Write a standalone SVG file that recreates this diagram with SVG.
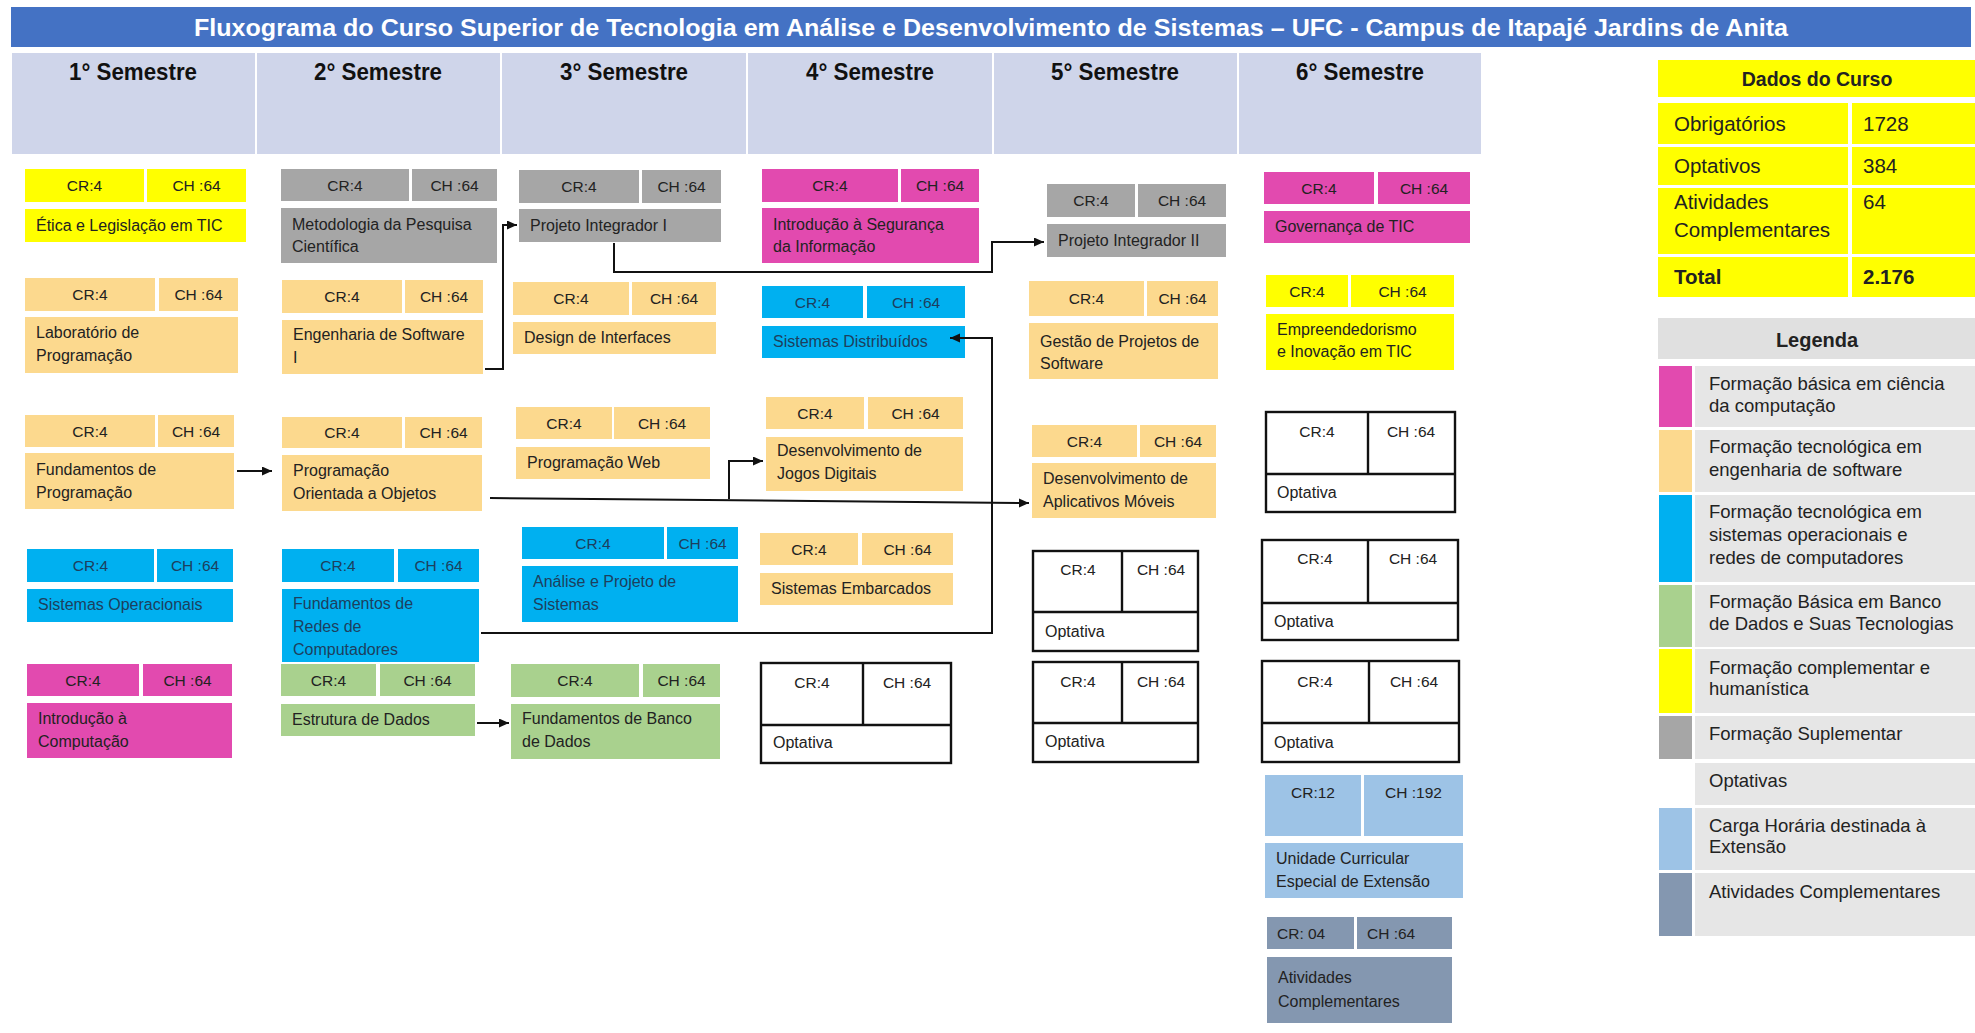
<svg xmlns="http://www.w3.org/2000/svg" width="1975" height="1033" viewBox="0 0 1975 1033">
<defs>
<style>
text{font-family:"Liberation Sans",Arial,sans-serif;fill:#222}
.cr{font-size:15.5px;text-anchor:middle}
.crl{font-size:15.5px}
.nm{font-size:16px}
.yl{fill:#ffff00}
.or{fill:#fcd98e}
.bl{fill:#00b0f0}
.mg{fill:#e24aaf}
.gy{fill:#a6a6a6}
.gr{fill:#a9d18e}
.lb{fill:#9dc3e6}
.sl{fill:#8497b0}
.wh{fill:#ffffff}
.bt text{fill:#1d3f5e}
.opt rect{fill:#fff;stroke:#111;stroke-width:2.4}
.opt line{stroke:#111;stroke-width:2.4}
.hd{fill:#cfd5ea}
.sem{font-family:"Liberation Sans Narrow","Liberation Sans",Arial,sans-serif;font-weight:bold;font-size:24px;text-anchor:middle;fill:#111}
.ttl{font-family:"Liberation Sans Narrow","Liberation Sans",Arial,sans-serif;font-weight:bold;font-size:24px;text-anchor:middle;fill:#fff}
.lg{font-size:18.5px}
.dt{font-size:20.5px}
.lgbg{fill:#e6e6e6}
.conn path{fill:none;stroke:#111;stroke-width:2}
</style>
<marker id="ah" markerUnits="userSpaceOnUse" markerWidth="12" markerHeight="10" refX="10" refY="4.5" orient="auto"><path d="M0,0 L10,4.5 L0,9 z" fill="#111"/></marker>
</defs>
<rect x="0" y="0" width="1975" height="1033" fill="#fff"/>

<g id="title">
<rect x="11" y="7" width="1960" height="40" fill="#4472c4"/>
<text class="ttl" x="991" y="36" textLength="1594" lengthAdjust="spacingAndGlyphs">Fluxograma do Curso Superior de Tecnologia em Análise e Desenvolvimento de Sistemas – UFC - Campus de Itapajé Jardins de Anita</text>
</g>

<g id="semester-headers">
<rect class="hd" x="12" y="53" width="243" height="101"/>
<rect class="hd" x="257" y="53" width="243" height="101"/>
<rect class="hd" x="502" y="53" width="244" height="101"/>
<rect class="hd" x="748" y="53" width="244" height="101"/>
<rect class="hd" x="994" y="53" width="243" height="101"/>
<rect class="hd" x="1239" y="53" width="242" height="101"/>
<text class="sem" x="133" y="80" textLength="128" lengthAdjust="spacingAndGlyphs">1° Semestre</text>
<text class="sem" x="378" y="80" textLength="128" lengthAdjust="spacingAndGlyphs">2° Semestre</text>
<text class="sem" x="624" y="80" textLength="128" lengthAdjust="spacingAndGlyphs">3° Semestre</text>
<text class="sem" x="870" y="80" textLength="128" lengthAdjust="spacingAndGlyphs">4° Semestre</text>
<text class="sem" x="1115" y="80" textLength="128" lengthAdjust="spacingAndGlyphs">5° Semestre</text>
<text class="sem" x="1360" y="80" textLength="128" lengthAdjust="spacingAndGlyphs">6° Semestre</text>
</g>

<!-- Semestre 1 -->
<g id="etica">
<rect class="yl" x="25" y="169" width="119" height="33"/><rect class="yl" x="147" y="169" width="99" height="33"/><rect class="yl" x="25" y="209" width="221" height="33"/>
<text class="cr" x="84.5" y="191">CR:4</text><text class="cr" x="196.5" y="191">CH :64</text>
<text class="nm" x="36" y="231">Ética e Legislação em TIC</text>
</g>
<g id="laboratorio">
<rect class="or" x="25" y="278" width="130" height="33"/><rect class="or" x="159" y="278" width="79" height="33"/><rect class="or" x="25" y="317" width="213" height="56"/>
<text class="cr" x="90" y="300">CR:4</text><text class="cr" x="198.5" y="300">CH :64</text>
<text class="nm" x="36" y="338">Laboratório de</text><text class="nm" x="36" y="361">Programação</text>
</g>
<g id="fund-prog">
<rect class="or" x="25" y="415" width="130" height="32"/><rect class="or" x="158" y="415" width="76" height="32"/><rect class="or" x="25" y="453" width="209" height="56"/>
<text class="cr" x="90" y="436.5">CR:4</text><text class="cr" x="196" y="436.5">CH :64</text>
<text class="nm" x="36" y="475">Fundamentos de</text><text class="nm" x="36" y="498">Programação</text>
</g>
<g id="sist-op" class="bt">
<rect class="bl" x="27" y="549" width="127" height="33"/><rect class="bl" x="157" y="549" width="76" height="33"/><rect class="bl" x="27" y="589" width="206" height="33"/>
<text class="cr" x="90.5" y="571">CR:4</text><text class="cr" x="195" y="571">CH :64</text>
<text class="nm" x="38" y="610">Sistemas Operacionais</text>
</g>
<g id="intro-comp">
<rect class="mg" x="27" y="664" width="112" height="32"/><rect class="mg" x="143" y="664" width="89" height="32"/><rect class="mg" x="27" y="703" width="205" height="55"/>
<text class="cr" x="83" y="685.5">CR:4</text><text class="cr" x="187.5" y="685.5">CH :64</text>
<text class="nm" x="38" y="724">Introdução à</text><text class="nm" x="38" y="747">Computação</text>
</g>

<!-- Semestre 2 -->
<g id="metodologia">
<rect class="gy" x="281" y="169" width="128" height="32"/><rect class="gy" x="412" y="169" width="85" height="32"/><rect class="gy" x="281" y="208" width="216" height="55"/>
<text class="cr" x="345" y="190.5">CR:4</text><text class="cr" x="454.5" y="190.5">CH :64</text>
<text class="nm" x="292" y="230">Metodologia da Pesquisa</text><text class="nm" x="292" y="252">Científica</text>
</g>
<g id="eng-soft">
<rect class="or" x="282" y="280" width="120" height="33"/><rect class="or" x="405" y="280" width="78" height="33"/><rect class="or" x="282" y="320" width="201" height="54"/>
<text class="cr" x="342" y="302">CR:4</text><text class="cr" x="444" y="302">CH :64</text>
<text class="nm" x="293" y="340">Engenharia de Software</text><text class="nm" x="293" y="363">I</text>
</g>
<g id="poo">
<rect class="or" x="282" y="417" width="120" height="31"/><rect class="or" x="405" y="417" width="77" height="31"/><rect class="or" x="282" y="455" width="200" height="56"/>
<text class="cr" x="342" y="438">CR:4</text><text class="cr" x="443.5" y="438">CH :64</text>
<text class="nm" x="293" y="476">Programação</text><text class="nm" x="293" y="499">Orientada a Objetos</text>
</g>
<g id="redes" class="bt">
<rect class="bl" x="282" y="549" width="112" height="33"/><rect class="bl" x="398" y="549" width="81" height="33"/><rect class="bl" x="282" y="589" width="197" height="73"/>
<text class="cr" x="338" y="571">CR:4</text><text class="cr" x="438.5" y="571">CH :64</text>
<text class="nm" x="293" y="609">Fundamentos de</text><text class="nm" x="293" y="632">Redes de</text><text class="nm" x="293" y="655">Computadores</text>
</g>
<g id="estrutura">
<rect class="gr" x="281" y="664" width="95" height="32"/><rect class="gr" x="380" y="664" width="95" height="32"/><rect class="gr" x="281" y="704" width="194" height="32"/>
<text class="cr" x="328.5" y="685.5">CR:4</text><text class="cr" x="427.5" y="685.5">CH :64</text>
<text class="nm" x="292" y="725">Estrutura de Dados</text>
</g>

<!-- Semestre 3 -->
<g id="pi1">
<rect class="gy" x="519" y="170" width="120" height="33"/><rect class="gy" x="642" y="170" width="79" height="33"/><rect class="gy" x="519" y="209" width="202" height="33"/>
<text class="cr" x="579" y="192">CR:4</text><text class="cr" x="681.5" y="192">CH :64</text>
<text class="nm" x="530" y="231">Projeto Integrador I</text>
</g>
<g id="design">
<rect class="or" x="513" y="282" width="116" height="33"/><rect class="or" x="632" y="282" width="84" height="33"/><rect class="or" x="513" y="322" width="203" height="32"/>
<text class="cr" x="571" y="304">CR:4</text><text class="cr" x="674" y="304">CH :64</text>
<text class="nm" x="524" y="343">Design de Interfaces</text>
</g>
<g id="prog-web">
<rect class="or" x="516" y="407" width="96" height="32"/><rect class="or" x="614" y="407" width="96" height="32"/><rect class="or" x="516" y="447" width="194" height="32"/>
<text class="cr" x="564" y="428.5">CR:4</text><text class="cr" x="662" y="428.5">CH :64</text>
<text class="nm" x="527" y="468">Programação Web</text>
</g>
<g id="analise" class="bt">
<rect class="bl" x="522" y="527" width="142" height="32"/><rect class="bl" x="667" y="527" width="71" height="32"/><rect class="bl" x="522" y="566" width="216" height="56"/>
<text class="cr" x="593" y="548.5">CR:4</text><text class="cr" x="702.5" y="548.5">CH :64</text>
<text class="nm" x="533" y="587">Análise e Projeto de</text><text class="nm" x="533" y="610">Sistemas</text>
</g>
<g id="banco">
<rect class="gr" x="511" y="664" width="128" height="33"/><rect class="gr" x="643" y="664" width="77" height="33"/><rect class="gr" x="511" y="704" width="209" height="55"/>
<text class="cr" x="575" y="686">CR:4</text><text class="cr" x="681.5" y="686">CH :64</text>
<text class="nm" x="522" y="724">Fundamentos de Banco</text><text class="nm" x="522" y="747">de Dados</text>
</g>

<!-- Semestre 4 -->
<g id="seguranca">
<rect class="mg" x="762" y="169" width="136" height="33"/><rect class="mg" x="901" y="169" width="78" height="33"/><rect class="mg" x="762" y="208" width="217" height="55"/>
<text class="cr" x="830" y="191">CR:4</text><text class="cr" x="940" y="191">CH :64</text>
<text class="nm" x="773" y="230">Introdução à Segurança</text><text class="nm" x="773" y="252">da Informação</text>
</g>
<g id="distribuidos" class="bt">
<rect class="bl" x="762" y="286" width="101" height="32"/><rect class="bl" x="867" y="286" width="98" height="32"/><rect class="bl" x="762" y="326" width="203" height="32"/>
<text class="cr" x="812.5" y="307.5">CR:4</text><text class="cr" x="916" y="307.5">CH :64</text>
<text class="nm" x="773" y="347">Sistemas Distribuídos</text>
</g>
<g id="jogos">
<rect class="or" x="766" y="397" width="98" height="32"/><rect class="or" x="868" y="397" width="95" height="32"/><rect class="or" x="766" y="437" width="197" height="54"/>
<text class="cr" x="815" y="418.5">CR:4</text><text class="cr" x="915.5" y="418.5">CH :64</text>
<text class="nm" x="777" y="456">Desenvolvimento de</text><text class="nm" x="777" y="479">Jogos Digitais</text>
</g>
<g id="embarcados">
<rect class="or" x="760" y="533" width="98" height="32"/><rect class="or" x="862" y="533" width="91" height="32"/><rect class="or" x="760" y="573" width="193" height="32"/>
<text class="cr" x="809" y="554.5">CR:4</text><text class="cr" x="907.5" y="554.5">CH :64</text>
<text class="nm" x="771" y="594">Sistemas Embarcados</text>
</g>
<g id="optativa-4" class="opt">
<rect x="761" y="663" width="190" height="100"/><line x1="863" y1="663" x2="863" y2="725"/><line x1="761" y1="725" x2="951" y2="725"/>
<text class="cr" x="812" y="688">CR:4</text><text class="cr" x="907" y="688">CH :64</text>
<text class="nm" x="773" y="748">Optativa</text>
</g>

<!-- Semestre 5 -->
<g id="pi2">
<rect class="gy" x="1047" y="184" width="88" height="33"/><rect class="gy" x="1138" y="184" width="88" height="33"/><rect class="gy" x="1047" y="224" width="179" height="33"/>
<text class="cr" x="1091" y="206">CR:4</text><text class="cr" x="1182" y="206">CH :64</text>
<text class="nm" x="1058" y="246">Projeto Integrador II</text>
</g>
<g id="gestao">
<rect class="or" x="1029" y="281" width="115" height="35"/><rect class="or" x="1147" y="281" width="71" height="35"/><rect class="or" x="1029" y="323" width="189" height="56"/>
<text class="cr" x="1086.5" y="304">CR:4</text><text class="cr" x="1182.5" y="304">CH :64</text>
<text class="nm" x="1040" y="347">Gestão de Projetos de</text><text class="nm" x="1040" y="369">Software</text>
</g>
<g id="apps">
<rect class="or" x="1032" y="425" width="105" height="32"/><rect class="or" x="1140" y="425" width="76" height="32"/><rect class="or" x="1032" y="463" width="184" height="55"/>
<text class="cr" x="1084.5" y="446.5">CR:4</text><text class="cr" x="1178" y="446.5">CH :64</text>
<text class="nm" x="1043" y="484">Desenvolvimento de</text><text class="nm" x="1043" y="507">Aplicativos Móveis</text>
</g>
<g id="optativa-5a" class="opt">
<rect x="1033" y="551" width="165" height="100"/><line x1="1122" y1="551" x2="1122" y2="612"/><line x1="1033" y1="612" x2="1198" y2="612"/>
<text class="cr" x="1078" y="575">CR:4</text><text class="cr" x="1161" y="575">CH :64</text>
<text class="nm" x="1045" y="637">Optativa</text>
</g>
<g id="optativa-5b" class="opt">
<rect x="1033" y="662" width="165" height="100"/><line x1="1122" y1="662" x2="1122" y2="723"/><line x1="1033" y1="723" x2="1198" y2="723"/>
<text class="cr" x="1078" y="687">CR:4</text><text class="cr" x="1161" y="687">CH :64</text>
<text class="nm" x="1045" y="747">Optativa</text>
</g>

<!-- Semestre 6 -->
<g id="governanca">
<rect class="mg" x="1264" y="172" width="110" height="32"/><rect class="mg" x="1378" y="172" width="92" height="32"/><rect class="mg" x="1264" y="211" width="206" height="32"/>
<text class="cr" x="1319" y="193.5">CR:4</text><text class="cr" x="1424" y="193.5">CH :64</text>
<text class="nm" x="1275" y="232">Governança de TIC</text>
</g>
<g id="empreendedorismo">
<rect class="yl" x="1266" y="275" width="82" height="32"/><rect class="yl" x="1351" y="275" width="103" height="32"/><rect class="yl" x="1266" y="314" width="188" height="56"/>
<text class="cr" x="1307" y="296.5">CR:4</text><text class="cr" x="1402.5" y="296.5">CH :64</text>
<text class="nm" x="1277" y="335">Empreendedorismo</text><text class="nm" x="1277" y="357">e Inovação em TIC</text>
</g>
<g id="optativa-6a" class="opt">
<rect x="1266" y="412" width="189" height="100"/><line x1="1368" y1="412" x2="1368" y2="474"/><line x1="1266" y1="474" x2="1455" y2="474"/>
<text class="cr" x="1317" y="437">CR:4</text><text class="cr" x="1411" y="437">CH :64</text>
<text class="nm" x="1277" y="498">Optativa</text>
</g>
<g id="optativa-6b" class="opt">
<rect x="1262" y="540" width="196" height="100"/><line x1="1368" y1="540" x2="1368" y2="603"/><line x1="1262" y1="603" x2="1458" y2="603"/>
<text class="cr" x="1315" y="564">CR:4</text><text class="cr" x="1413" y="564">CH :64</text>
<text class="nm" x="1274" y="627">Optativa</text>
</g>
<g id="optativa-6c" class="opt">
<rect x="1262" y="661" width="197" height="101"/><line x1="1369" y1="661" x2="1369" y2="723"/><line x1="1262" y1="723" x2="1459" y2="723"/>
<text class="cr" x="1315" y="687">CR:4</text><text class="cr" x="1414" y="687">CH :64</text>
<text class="nm" x="1274" y="748">Optativa</text>
</g>
<g id="extensao">
<rect class="lb" x="1265" y="775" width="96" height="61"/><rect class="lb" x="1364" y="775" width="99" height="61"/><rect class="lb" x="1265" y="843" width="198" height="55"/>
<text class="cr" x="1313" y="798">CR:12</text><text class="cr" x="1413.5" y="798">CH :192</text>
<text class="nm" x="1276" y="864">Unidade Curricular</text><text class="nm" x="1276" y="887">Especial de Extensão</text>
</g>
<g id="atividades">
<rect class="sl" x="1267" y="917" width="87" height="32"/><rect class="sl" x="1357" y="917" width="95" height="32"/><rect class="sl" x="1267" y="957" width="185" height="66"/>
<text class="crl" x="1277" y="939">CR: 04</text><text class="crl" x="1367" y="939">CH :64</text>
<text class="nm" x="1278" y="983">Atividades</text><text class="nm" x="1278" y="1007">Complementares</text>
</g>

<!-- Connectors -->
<g id="connectors" class="conn">
<path d="M485,369 H503 V225 H517" marker-end="url(#ah)"/>
<path d="M614,243 V272 H992 V242 H1044" marker-end="url(#ah)"/>
<path d="M237,471 H272" marker-end="url(#ah)"/>
<path d="M490,498 L1029,503" marker-end="url(#ah)"/>
<path d="M729,499 V461 H763" marker-end="url(#ah)"/>
<path d="M481,633 H992 V338 H950" marker-end="url(#ah)"/>
<path d="M477,723 H509" marker-end="url(#ah)"/>
</g>

<!-- Dados do Curso -->
<g id="dados-curso">
<rect class="yl" x="1658" y="60" width="317" height="37"/>
<text class="dt" x="1817" y="86" text-anchor="middle" font-weight="bold" style="font-size:19.5px">Dados do Curso</text>
<rect class="yl" x="1658" y="103" width="190" height="41"/><rect class="yl" x="1852" y="103" width="123" height="41"/>
<rect class="yl" x="1658" y="147" width="190" height="38"/><rect class="yl" x="1852" y="147" width="123" height="38"/>
<rect class="yl" x="1658" y="188" width="190" height="66"/><rect class="yl" x="1852" y="188" width="123" height="66"/>
<rect class="yl" x="1658" y="257" width="190" height="40"/><rect class="yl" x="1852" y="257" width="123" height="40"/>
<text class="dt" x="1674" y="131">Obrigatórios</text><text class="dt" x="1863" y="131">1728</text>
<text class="dt" x="1674" y="173">Optativos</text><text class="dt" x="1863" y="173">384</text>
<text class="dt" x="1674" y="209">Atividades</text><text class="dt" x="1674" y="237">Complementares</text><text class="dt" x="1863" y="209">64</text>
<text class="dt" x="1674" y="284" font-weight="bold">Total</text><text class="dt" x="1863" y="284" font-weight="bold">2.176</text>
</g>

<!-- Legenda -->
<g id="legenda">
<rect x="1658" y="318" width="317" height="41" fill="#e0e0e0"/>
<text x="1817" y="347" text-anchor="middle" font-weight="bold" style="font-size:20px">Legenda</text>
<rect class="mg" x="1659" y="366" width="33" height="61"/><rect class="lgbg" x="1695" y="366" width="280" height="61"/>
<text class="lg" x="1709" y="390">Formação básica em ciência</text><text class="lg" x="1709" y="412">da computação</text>
<rect class="or" x="1659" y="430" width="33" height="62"/><rect class="lgbg" x="1695" y="430" width="280" height="62"/>
<text class="lg" x="1709" y="453">Formação tecnológica em</text><text class="lg" x="1709" y="476">engenharia de software</text>
<rect class="bl" x="1659" y="495" width="33" height="87"/><rect class="lgbg" x="1695" y="495" width="280" height="87"/>
<text class="lg" x="1709" y="518">Formação tecnológica em</text><text class="lg" x="1709" y="541">sistemas operacionais e</text><text class="lg" x="1709" y="564">redes de computadores</text>
<rect class="gr" x="1659" y="585" width="33" height="62"/><rect class="lgbg" x="1695" y="585" width="280" height="62"/>
<text class="lg" x="1709" y="608">Formação Básica em Banco</text><text class="lg" x="1709" y="630">de Dados e Suas Tecnologias</text>
<rect class="yl" x="1659" y="649" width="33" height="64"/><rect class="lgbg" x="1695" y="649" width="280" height="64"/>
<text class="lg" x="1709" y="674">Formação complementar e</text><text class="lg" x="1709" y="695">humanística</text>
<rect class="gy" x="1659" y="716" width="33" height="43"/><rect class="lgbg" x="1695" y="716" width="280" height="43"/>
<text class="lg" x="1709" y="740">Formação Suplementar</text>
<rect class="wh" x="1659" y="763" width="33" height="42"/><rect class="lgbg" x="1695" y="763" width="280" height="42"/>
<text class="lg" x="1709" y="787">Optativas</text>
<rect class="lb" x="1659" y="808" width="33" height="62"/><rect class="lgbg" x="1695" y="808" width="280" height="62"/>
<text class="lg" x="1709" y="832">Carga Horária destinada à</text><text class="lg" x="1709" y="853">Extensão</text>
<rect class="sl" x="1659" y="873" width="33" height="63"/><rect class="lgbg" x="1695" y="873" width="280" height="63"/>
<text class="lg" x="1709" y="898">Atividades Complementares</text>
</g>
</svg>
